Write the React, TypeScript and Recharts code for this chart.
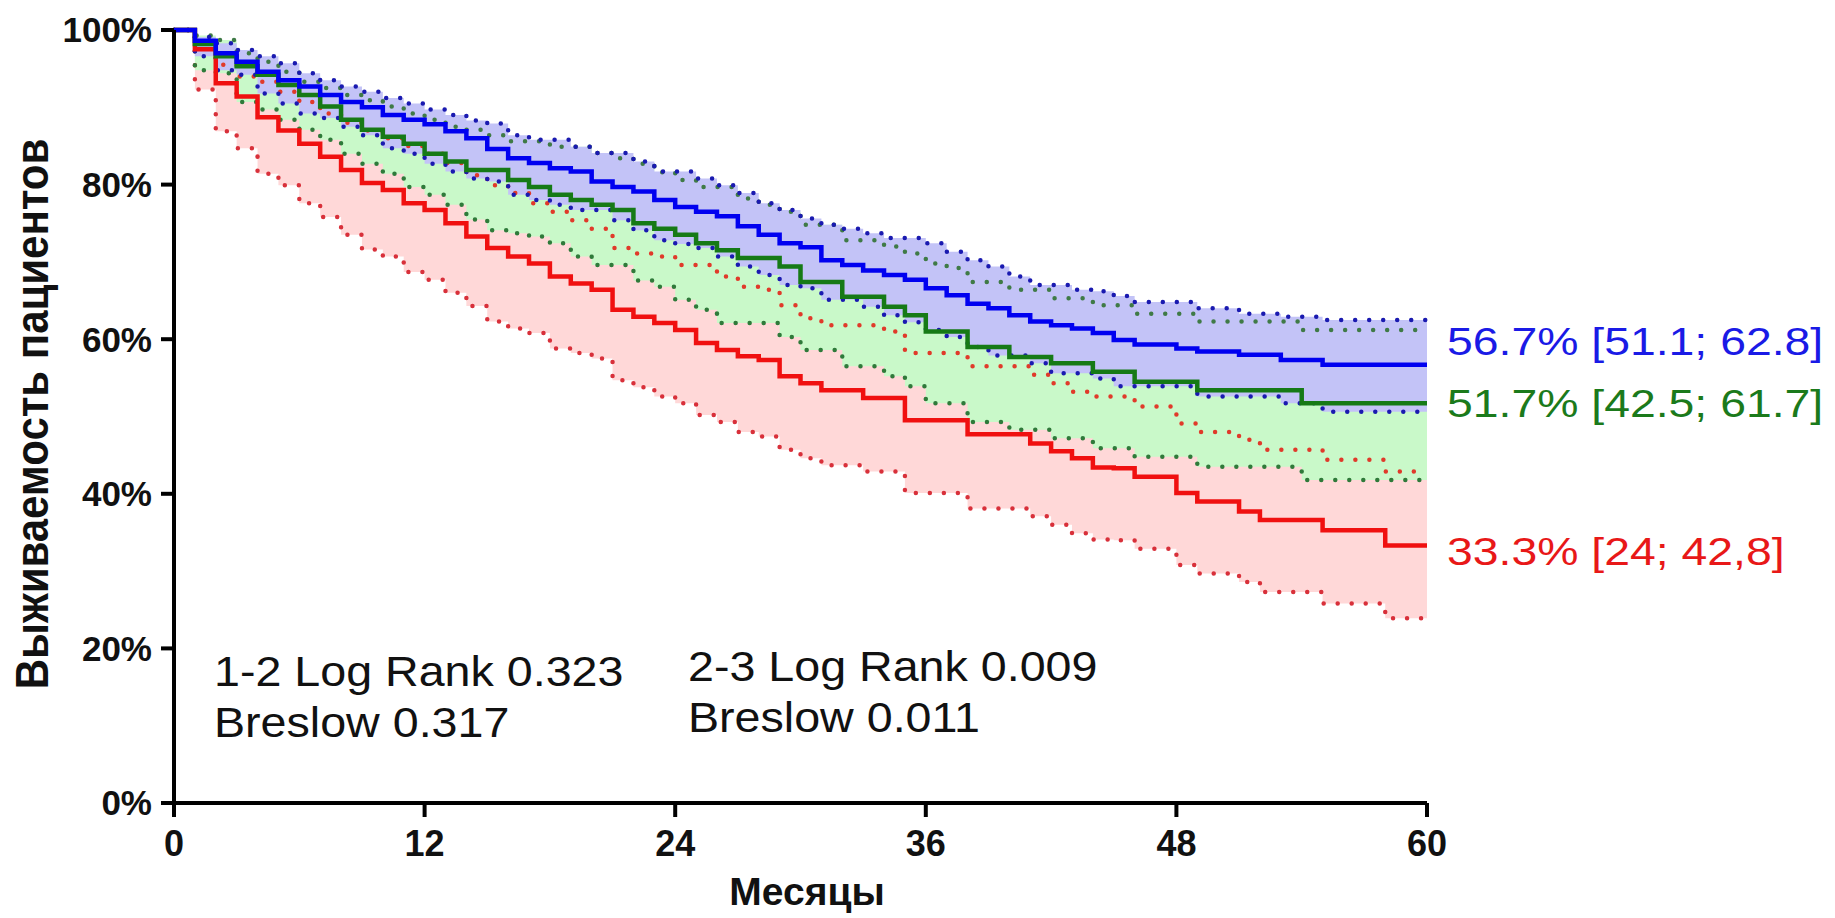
import React from 'react';
import { ComposedChart, Area, Line, XAxis, YAxis } from 'recharts';

// Months 0..60 (step after each month)
const months: number[] = Array.from({ length: 61 }, (_, i) => i);

// Group 1 (blue)
const blueSurv = [
  100, 98.6, 97.0, 95.9, 94.6, 93.5, 92.7, 91.6, 90.7, 90.0,
  89.0, 88.4, 87.8, 86.9, 86.0, 84.6, 83.4, 82.8, 82.1, 81.7,
  80.4, 79.7, 79.1, 78.0, 77.1, 76.5, 75.9, 74.6, 73.5, 72.4,
  71.9, 70.2, 69.6, 68.9, 68.3, 67.7, 66.6, 65.7, 64.6, 64.0,
  63.1, 62.3, 61.8, 61.4, 60.8, 59.9, 59.3, 59.3, 58.8, 58.4,
  58.4, 58.0, 58.0, 57.3, 57.3, 56.7, 56.7, 56.7, 56.7, 56.7, 56.7,
];
const blueHi = [
  100, 99.1, 98.3, 97.4, 96.6, 95.7, 94.4, 93.5, 92.7, 92.0,
  91.2, 90.5, 89.7, 89.0, 88.3, 87.9, 86.4, 85.8, 85.8, 84.9,
  84.1, 84.1, 83.0, 81.7, 81.7, 80.8, 79.9, 78.9, 77.6, 76.7,
  75.6, 74.8, 74.3, 73.7, 73.1, 73.1, 72.4, 71.3, 70.2, 69.4,
  68.1, 67.0, 67.0, 66.4, 66.2, 65.6, 64.8, 64.8, 64.8, 64.0,
  64.0, 63.3, 63.3, 62.9, 62.9, 62.5, 62.5, 62.5, 62.5, 62.5, 62.5,
];
const blueLo = [
  100, 96.6, 94.8, 94.2, 91.8, 90.5, 89.2, 88.6, 87.5, 86.4,
  84.7, 84.0, 82.7, 81.7, 80.8, 80.4, 78.7, 78.0, 77.4, 76.7,
  76.7, 75.4, 74.1, 72.8, 72.3, 71.8, 70.7, 69.4, 68.3, 67.0,
  66.6, 65.1, 65.1, 64.2, 63.1, 62.2, 61.2, 60.3, 59.0, 57.9,
  57.9, 56.9, 55.6, 55.6, 54.9, 53.9, 53.9, 53.9, 53.9, 52.6,
  52.6, 52.6, 52.6, 51.7, 51.7, 50.6, 50.6, 50.6, 50.6, 50.6, 50.6,
];

// Group 2 (green)
const greenSurv = [
  100, 98.2, 96.6, 95.3, 94.2, 92.9, 91.6, 90.1, 88.4, 87.1,
  86.2, 85.3, 84.0, 83.0, 81.9, 81.9, 80.6, 79.7, 78.7, 78.0,
  77.4, 76.7, 75.0, 74.3, 73.5, 72.4, 71.5, 70.5, 70.5, 69.4,
  67.4, 67.4, 65.5, 65.5, 64.2, 63.1, 61.0, 61.0, 59.0, 59.0,
  57.7, 57.7, 56.9, 56.9, 55.8, 55.8, 54.5, 54.5, 54.5, 53.4,
  53.4, 53.4, 53.4, 53.4, 51.7, 51.7, 51.7, 51.7, 51.7, 51.7, 51.7,
];
const greenHi = [
  100, 99.3, 98.7, 97.0, 95.9, 94.6, 93.3, 92.5, 91.6, 90.9,
  90.1, 89.2, 88.4, 87.5, 87.1, 86.4, 85.6, 85.6, 84.9, 84.9,
  84.1, 83.4, 82.7, 81.6, 80.6, 79.7, 79.7, 78.2, 77.4, 76.5,
  74.8, 74.8, 72.8, 72.8, 72.0, 71.1, 69.8, 69.2, 67.4, 67.4,
  66.4, 66.4, 65.3, 65.3, 64.4, 64.4, 63.3, 63.3, 63.3, 62.3,
  62.3, 62.3, 62.3, 62.3, 61.2, 61.2, 61.2, 61.2, 61.2, 61.2, 61.2,
];
const greenLo = [
  100, 94.8, 94.4, 90.7, 89.7, 88.4, 87.1, 85.8, 84.0, 82.7,
  81.4, 79.7, 78.7, 77.4, 75.5, 74.1, 73.7, 73.3, 72.4, 70.7,
  69.6, 69.6, 67.6, 66.8, 65.1, 63.8, 62.1, 62.1, 62.1, 60.3,
  58.6, 58.6, 56.5, 56.5, 55.2, 53.9, 51.7, 51.7, 49.3, 49.3,
  48.3, 48.3, 47.2, 47.2, 45.9, 45.9, 44.8, 44.8, 44.8, 43.5,
  43.5, 43.5, 43.5, 43.5, 41.8, 41.8, 41.8, 41.8, 41.8, 41.8, 41.8,
];

// Group 3 (red)
const redSurv = [
  100, 97.5, 93.1, 91.4, 88.7, 87.0, 85.3, 83.6, 81.9, 80.2,
  79.3, 77.6, 76.7, 75.0, 73.3, 71.8, 70.7, 69.8, 68.1, 67.2,
  66.4, 63.8, 62.9, 62.1, 61.2, 59.5, 58.6, 57.8, 57.3, 55.2,
  54.3, 53.4, 53.4, 52.4, 52.4, 49.5, 49.5, 49.5, 47.7, 47.7,
  47.7, 46.5, 45.5, 44.6, 43.4, 43.3, 42.2, 42.2, 40.1, 39.0,
  39.0, 37.7, 36.6, 36.6, 36.6, 35.3, 35.3, 35.3, 33.3, 33.3, 33.3,
];
const redHi = [
  100, 98.5, 95.5, 94.0, 93.3, 92.0, 90.7, 89.2, 88.0, 87.0,
  86.0, 85.0, 84.0, 82.8, 81.2, 79.9, 78.9, 77.6, 76.5, 75.4,
  74.3, 71.8, 71.1, 70.7, 69.6, 69.6, 68.1, 66.8, 66.4, 64.4,
  62.7, 61.8, 61.8, 61.8, 61.0, 58.2, 58.2, 58.2, 56.5, 56.5,
  56.5, 55.4, 54.3, 53.2, 52.6, 52.6, 51.3, 51.3, 49.1, 48.0,
  48.0, 47.0, 45.7, 45.7, 45.7, 44.4, 44.4, 44.4, 42.9, 42.9, 42.9,
];
const redLo = [
  100, 92.3, 86.9, 84.7, 81.4, 79.9, 77.6, 75.8, 73.5, 71.6,
  70.7, 68.7, 67.7, 66.0, 64.3, 62.3, 61.4, 60.8, 58.8, 58.2,
  57.5, 54.7, 53.8, 52.6, 51.7, 50.2, 49.3, 48.0, 47.4, 45.7,
  44.6, 43.7, 43.7, 42.9, 42.9, 40.1, 40.1, 40.1, 38.1, 38.1,
  38.1, 37.1, 36.0, 34.9, 34.1, 34.0, 32.9, 32.9, 30.8, 29.7,
  29.7, 28.6, 27.3, 27.3, 27.3, 25.8, 25.8, 25.8, 23.9, 23.9, 23.9,
];

const xTicks = [0, 12, 24, 36, 48, 60];
const yTicks = [0, 20, 40, 60, 80, 100];

const endLabels = [
  { text: '56.7% [51.1; 62.8]', color: '#1a1ae6' },
  { text: '51.7% [42.5; 61.7]', color: '#1b7a1b' },
  { text: '33.3% [24; 42,8]', color: '#e81818' },
];
const testLines = [
  ['1-2 Log Rank 0.323', 'Breslow 0.317'],
  ['2-3 Log Rank 0.009', 'Breslow 0.011'],
];
const yTitle = 'Выживаемость пациентов';
const xTitle = 'Месяцы';

const data = months.map((m, i) => ({
  month: m,
  blue: blueSurv[i],
  green: greenSurv[i],
  red: redSurv[i],
  blueHi: blueHi[i],
  blueLo: blueLo[i],
  greenHi: greenHi[i],
  greenLo: greenLo[i],
  redHi: redHi[i],
  redLo: redLo[i],
  blueBand: [blueLo[i], blueHi[i]],
  greenBand: [greenLo[i], greenHi[i]],
  redBand: [redLo[i], redHi[i]],
}));

const W = 1835;
const H = 918;
const FONT = "'Liberation Sans', Arial, Helvetica, sans-serif";

const dotted = {
  strokeDasharray: '0.01 14',
  strokeLinecap: 'round' as const,
  strokeWidth: 4.5,
};

export default function App() {
  return (
    <div style={{ position: 'absolute', left: 0, top: 0, width: W, height: H, background: '#fff' }}>
      <ComposedChart
        width={W}
        height={H}
        data={data}
        margin={{ top: 30, right: 408, bottom: 55, left: 0 }}
      >
        <XAxis
          dataKey="month"
          type="number"
          domain={[0, 60]}
          ticks={xTicks}
          interval={0}
          height={60}
          tickSize={14}
          tickMargin={13}
          axisLine={{ stroke: '#000', strokeWidth: 4 }}
          tickLine={{ stroke: '#000', strokeWidth: 4 }}
          tick={{ fontSize: 36, fontWeight: 'bold', fill: '#111', fontFamily: FONT }}
        />
        <YAxis
          type="number"
          domain={[0, 100]}
          ticks={yTicks}
          interval={0}
          width={174}
          tickSize={13}
          tickMargin={9}
          tickFormatter={(v: number) => `${v}%`}
          axisLine={{ stroke: '#000', strokeWidth: 4 }}
          tickLine={{ stroke: '#000', strokeWidth: 4 }}
          tick={{ fontSize: 35, fontWeight: 'bold', fill: '#111', fontFamily: FONT }}
        />
        <Area dataKey="redBand" type="stepAfter" fill="#ffd8d8" fillOpacity={1} stroke="none" isAnimationActive={false} dot={false} activeDot={false} />
        <Area dataKey="greenBand" type="stepAfter" fill="#c9f9c9" fillOpacity={1} stroke="none" isAnimationActive={false} dot={false} activeDot={false} />
        <Area dataKey="blueBand" type="stepAfter" fill="#c3c3f7" fillOpacity={1} stroke="none" isAnimationActive={false} dot={false} activeDot={false} />

        <Line dataKey="redHi" type="stepAfter" stroke="#e03a2a" {...dotted} dot={false} activeDot={false} isAnimationActive={false} />
        <Line dataKey="redLo" type="stepAfter" stroke="#d8303a" {...dotted} dot={false} activeDot={false} isAnimationActive={false} />
        <Line dataKey="greenHi" type="stepAfter" stroke="#3f7a46" {...dotted} dot={false} activeDot={false} isAnimationActive={false} />
        <Line dataKey="greenLo" type="stepAfter" stroke="#2f7a3a" {...dotted} dot={false} activeDot={false} isAnimationActive={false} />
        <Line dataKey="blueHi" type="stepAfter" stroke="#1a1ab0" {...dotted} dot={false} activeDot={false} isAnimationActive={false} />
        <Line dataKey="blueLo" type="stepAfter" stroke="#1a1ab0" {...dotted} dot={false} activeDot={false} isAnimationActive={false} />

        <Line dataKey="red" type="stepAfter" stroke="#f01010" strokeWidth={4.5} dot={false} activeDot={false} isAnimationActive={false} />
        <Line dataKey="green" type="stepAfter" stroke="#167a16" strokeWidth={4.5} dot={false} activeDot={false} isAnimationActive={false} />
        <Line dataKey="blue" type="stepAfter" stroke="#0000f0" strokeWidth={4.5} dot={false} activeDot={false} isAnimationActive={false} />
      </ComposedChart>

      <svg
        width={W}
        height={H}
        style={{ position: 'absolute', left: 0, top: 0, pointerEvents: 'none' }}
      >
        <text
          transform="translate(48,414) rotate(-90) scale(1,1.1)"
          textAnchor="middle"
          fontSize={42}
          fontWeight="bold"
          fontFamily={FONT}
          fill="#111"
        >
          {yTitle}
        </text>
        <text x={807} y={905} textAnchor="middle" fontSize={39} fontWeight="bold" fontFamily={FONT} fill="#111">
          {xTitle}
        </text>

        {endLabels.map((l, i) => {
          const ys = [355, 417, 565];
          return (
            <text
              key={i}
              transform={`translate(1447,${ys[i]}) scale(1.22,1)`}
              fontSize={38}
              fontFamily={FONT}
              fill={l.color}
            >
              {l.text}
            </text>
          );
        })}

        {testLines.map((pair, i) => {
          const xs = [214, 688];
          const ys = [[686, 737], [681, 732]];
          return pair.map((t, j) => (
            <text
              key={`${i}-${j}`}
              transform={`translate(${xs[i]},${ys[i][j]}) scale(1.11,1)`}
              fontSize={42}
              fontFamily={FONT}
              fill="#111"
            >
              {t}
            </text>
          ));
        })}
      </svg>
    </div>
  );
}
